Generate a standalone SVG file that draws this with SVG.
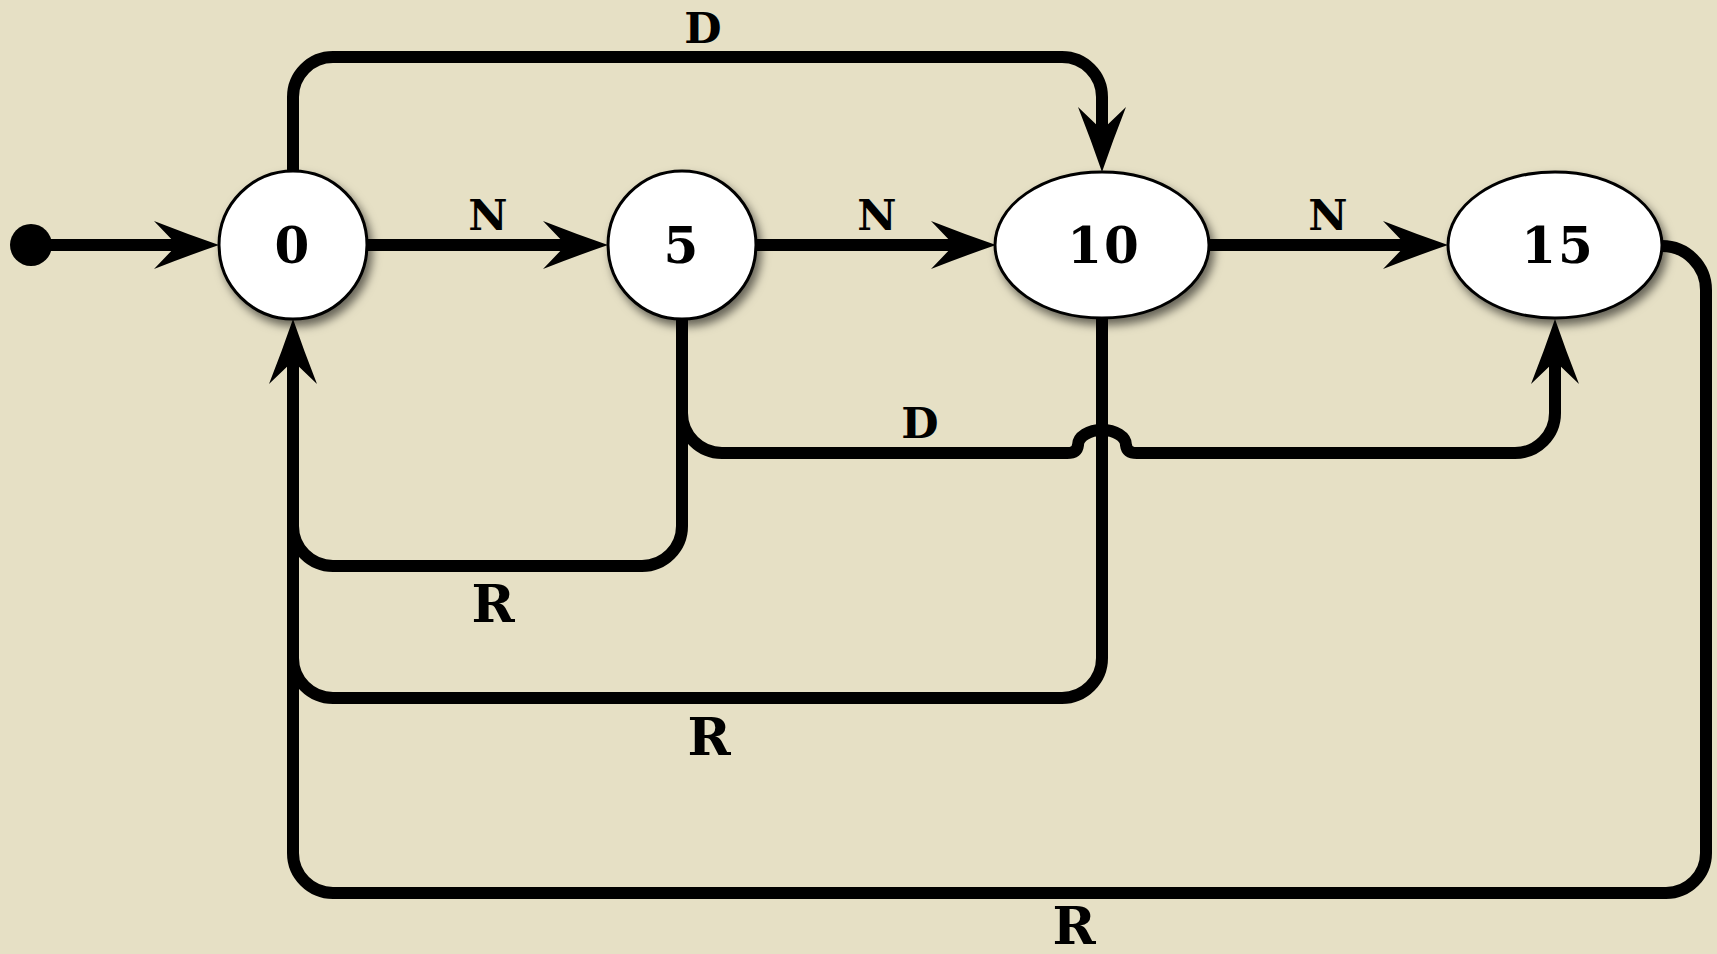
<svg xmlns="http://www.w3.org/2000/svg" width="1717" height="954" viewBox="0 0 1717 954">
<style>
.c{fill:none;stroke:#000;stroke-width:12;stroke-linecap:butt}
.n{fill:#fff;stroke:#000;stroke-width:3;filter:url(#sh)}
.t{font-family:"DejaVu Serif","Liberation Serif",serif;font-weight:bold;fill:#000;text-anchor:middle}
.d{font-size:50px;letter-spacing:2px}
.s{font-size:43px}
.r{font-size:52px}
</style>
<defs>
<filter id="sh" x="-30%" y="-30%" width="170%" height="170%">
<feDropShadow dx="4" dy="6" stdDeviation="5" flood-color="#000" flood-opacity="0.55"/>
</filter>
<path id="ah" d="M0 0 Q-32 -11 -65 -24 L-42 0 L-65 24 Q-32 11 0 0 Z" fill="#000"/>
</defs>
<rect width="1717" height="954" fill="#e6e0c5"/>
<g id="connectors">
<circle cx="31" cy="245" r="21" fill="#000"/>
<path class="c" d="M31 245 H180"/>
<path class="c" d="M368 245 H570"/>
<path class="c" d="M757 245 H958"/>
<path class="c" d="M1209 245 H1410"/>
<path class="c" d="M293 172 V97 A40 40 0 0 1 333 57 H1062 A40 40 0 0 1 1102 97 V134"/>
<path class="c" d="M682 318 V526 A40 40 0 0 1 642 566 H333 A40 40 0 0 1 293 526"/>
<path class="c" d="M1102 318 V658 A40 40 0 0 1 1062 698 H333 A40 40 0 0 1 293 658"/>
<path class="c" d="M1660 246 H1662 A44 44 0 0 1 1706 290 V853 A40 40 0 0 1 1666 893 H333 A40 40 0 0 1 293 853 V358"/>
<path class="c" d="M682 413 A40 40 0 0 0 722 453 H1067 Q1077 453 1078 445 A24 15 0 0 1 1126 445 Q1127 453 1137 453 H1515 A40 40 0 0 0 1555 413 V358"/>
<use href="#ah" transform="translate(219 245)"/>
<use href="#ah" transform="translate(608 245)"/>
<use href="#ah" transform="translate(996 245)"/>
<use href="#ah" transform="translate(1448 245)"/>
<use href="#ah" transform="translate(1102 172) rotate(90)"/>
<use href="#ah" transform="translate(1555 319) rotate(-90)"/>
<use href="#ah" transform="translate(293 319) rotate(-90)"/>
<text class="t s" x="488" y="230">N</text>
<text class="t s" x="877" y="230">N</text>
<text class="t s" x="1328" y="230">N</text>
<text class="t s" x="703" y="43">D</text>
<text class="t s" x="920" y="438">D</text>
<text class="t r" x="493" y="622">R</text>
<text class="t r" x="709" y="755">R</text>
<text class="t r" x="1074" y="944">R</text>
</g>
<g id="node-0">
<circle class="n" cx="293" cy="245" r="74"/>
<text class="t d" x="293" y="263">0</text>
</g>
<g id="node-5">
<circle class="n" cx="682" cy="245" r="74"/>
<text class="t d" x="682" y="263">5</text>
</g>
<g id="node-10">
<ellipse class="n" cx="1102" cy="245" rx="107" ry="73"/>
<text class="t d" x="1104" y="263">10</text>
</g>
<g id="node-15">
<ellipse class="n" cx="1555" cy="245" rx="107" ry="73"/>
<text class="t d" x="1558" y="263">15</text>
</g>
</svg>
